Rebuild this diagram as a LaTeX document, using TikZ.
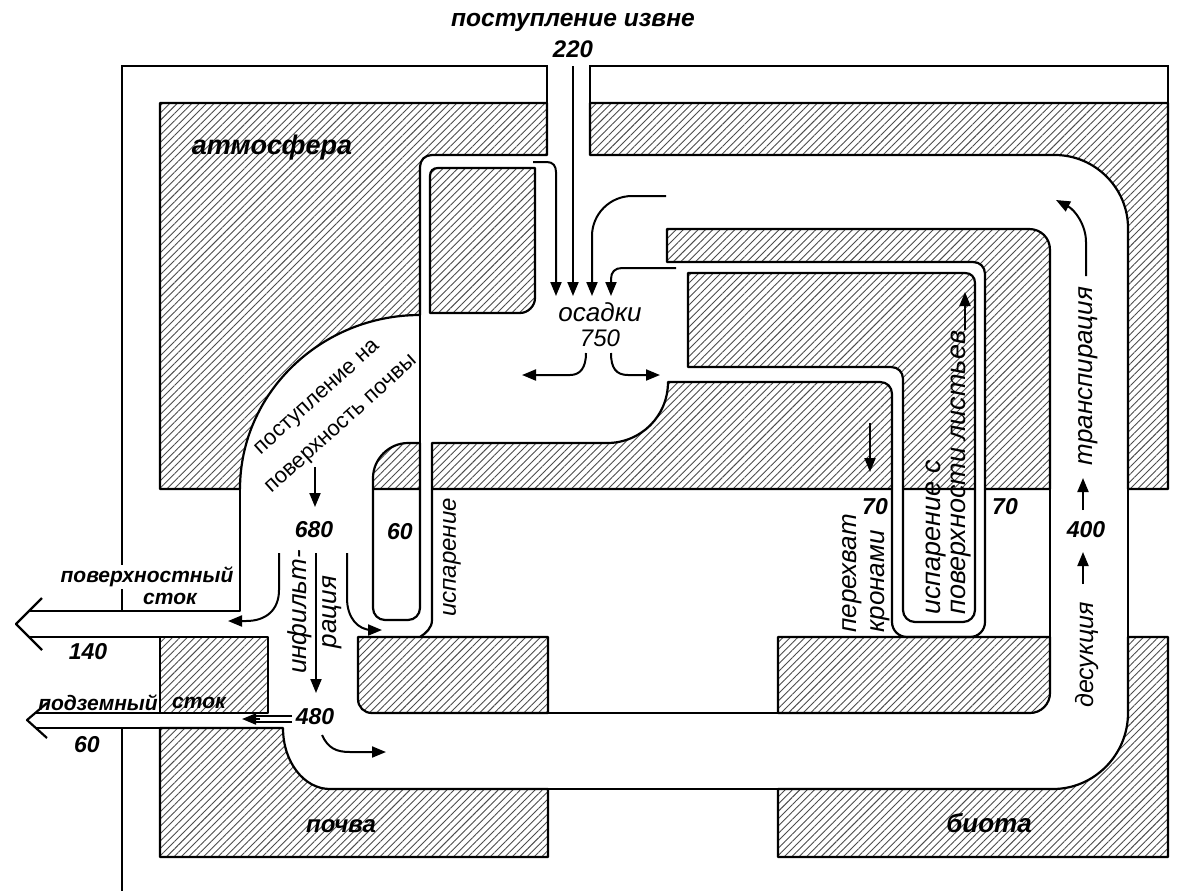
\documentclass[tikz,border=0pt]{standalone}
\usepackage{fontspec}
\setmainfont{Liberation Sans}
\usetikzlibrary{patterns.meta,arrows.meta}
\begin{document}
\begin{tikzpicture}[x=0.5pt,y=-0.5pt,
  hatch/.style={pattern={Lines[angle=45,distance=2.6pt,line width=0.45pt]},pattern color=black!70,draw=black,line width=1.1pt,line join=round},
  wall/.style={draw=black,line width=1.1pt,line join=round},
  frameline/.style={draw=black,line width=0.9pt},
  flow/.style={draw=black,line width=1pt,-{Triangle[length=7pt,width=5.5pt]}},
  lbl/.style={font=\fontsize{13}{14}\selectfont\bfseries\itshape,inner sep=1pt},
  num/.style={font=\fontsize{11.5}{13}\selectfont\bfseries\itshape,inner sep=1pt},
  vlbl/.style={font=\fontsize{13}{14}\selectfont\itshape,rotate=90,inner sep=0pt},
]
\useasboundingbox (0,0) rectangle (1200,891);

% ---------- atmosphere ----------
\draw[hatch] (160,103) -- (547,103) -- (547,155) -- (432,155) .. controls (425,155) and (420,160) .. (420,167) -- (420,315) .. controls (321,315) and (240,393) .. (240,489) -- (160,489) -- cycle;
\draw[hatch] (590,103) -- (1168,103) -- (1168,489) -- (1128,489) -- (1128,228) .. controls (1128,188) and (1095,155) .. (1055,155) -- (590,155) -- cycle;
\draw[hatch] (438,168) -- (535,168) -- (535,298) .. controls (535,306) and (528,313) .. (520,313) -- (430,313) -- (430,176) .. controls (430,171) and (433,168) .. (438,168) -- cycle;
\draw[hatch] (667,229) -- (1029,229) .. controls (1041,229) and (1050,238) .. (1050,250) -- (1050,489) -- (985,489) -- (985,274) .. controls (985,267) and (980,262) .. (973,262) -- (667,262) -- cycle;
\draw[hatch] (688,273) -- (965,273) .. controls (971,273) and (975,277) .. (975,283) -- (975,489) -- (903,489) -- (903,379) .. controls (903,372) and (898,367) .. (891,367) -- (688,367) -- cycle;
\draw[hatch] (432,443) -- (607,443) .. controls (641,443) and (668,416) .. (668,382) -- (880,382) .. controls (887,382) and (892,387) .. (892,394) -- (892,489) -- (432,489) -- cycle;
\draw[hatch] (420,443) -- (408,443) .. controls (389,443) and (373,459) .. (373,478) -- (373,489) -- (420,489) -- cycle;

% ---------- soil ----------
\draw[hatch] (160,637) rectangle (268,713);
\draw[hatch] (358,637) -- (548,637) -- (548,713) -- (372,713) .. controls (364,713) and (358,707) .. (358,699) -- cycle;
\draw[hatch] (160,728) -- (283,728) .. controls (283,762) and (304,789) .. (330,789) -- (548,789) -- (548,857) -- (160,857) -- cycle;

% ---------- biota ----------
\draw[hatch] (778,637) -- (1050,637) -- (1050,693) .. controls (1050,704) and (1041,713) .. (1030,713) -- (778,713) -- cycle;
\draw[hatch] (778,789) -- (1053,789) .. controls (1094,789) and (1128,755) .. (1128,713) -- (1128,637) -- (1168,637) -- (1168,857) -- (778,857) -- cycle;

% ---------- frame ----------
\draw[frameline] (122,611) -- (122,66) -- (547,66) -- (547,103);
\draw[frameline] (590,103) -- (590,66) -- (1168,66) -- (1168,103);
\draw[frameline] (122,728) -- (122,891);

% ---------- channel walls ----------
\draw[wall] (420,315) -- (420,489);
\draw[wall,rounded corners=6pt] (373,489) -- (373,620) -- (420,620) -- (420,489);
\draw[wall] (432,489) -- (432,620) .. controls (432,628) and (426,633) .. (420,637);
\draw[wall] (240,489) -- (240,611) -- (29,611);
\draw[wall] (268,637) -- (29,637);
\draw[wall] (42,598) -- (16,624) -- (42,650);
\draw[wall] (160,713) -- (35,713);
\draw[wall] (160,728) -- (35,728);
\draw[wall] (47,703) -- (27,720) -- (47,738);
\draw[wall] (548,713) -- (778,713);
\draw[wall] (548,789) -- (778,789);
\draw[wall,rounded corners=7.5pt] (892,489) -- (892,637) -- (985,637) -- (985,489);
\draw[wall,rounded corners=6pt] (903,489) -- (903,622) -- (975,622) -- (975,489);
\draw[wall] (1050,489) -- (1050,637);
\draw[wall] (1128,489) -- (1128,637);

% ---------- labels ----------
\node[lbl,font=\fontsize{12.3}{14}\selectfont\bfseries\itshape] (inflow) at (573,22) {поступление извне};
\node[num,font=\fontsize{12}{13}\selectfont\bfseries\itshape] (v220) at (573,49) {220};
\node[lbl,font=\fontsize{13.5}{14}\selectfont\bfseries\itshape] (atm) at (272,148) {атмосфера};
\node[lbl,font=\fontsize{12}{14}\selectfont\bfseries\itshape] (soil) at (341,826) {почва};
\node[lbl] (biota) at (989,823) {биота};
\node[font=\fontsize{13}{14}\selectfont\itshape,inner sep=1pt] (precip) at (600,312) {осадки};
\node[font=\fontsize{12}{14}\selectfont\itshape,inner sep=1pt] (v750) at (600,338) {750};
\node[font=\fontsize{11}{18}\selectfont,rotate=42,align=center,inner sep=0pt] (surfin) at (330,412) {поступление на\\поверхность почвы};
\node[num] (v680) at (314,530) {680};
\node[num] (v60a) at (400,532) {60};
\node[num] (v480) at (315,717) {480};
\node[num] (v70a) at (875,507) {70};
\node[num] (v70b) at (1005,507) {70};
\node[num] (v400) at (1086,530) {400};
\node[num] (v140) at (88,652) {140};
\node[num] (v60b) at (87,745) {60};
\node[font=\fontsize{10.5}{12}\selectfont\bfseries\itshape,fill=white,inner sep=1pt] (surfrun) at (147,577) {поверхностный};
\node[font=\fontsize{10.5}{12}\selectfont\bfseries\itshape,inner sep=1pt] (surfrun2) at (170,599) {сток};
\node[font=\fontsize{10.5}{12}\selectfont\bfseries\itshape,inner sep=1pt] (undrun) at (98,703) {подземный};
\node[font=\fontsize{10.5}{12}\selectfont\bfseries\itshape,inner sep=1pt] (undrun2) at (199,703) {сток};
\node[vlbl,align=center,font=\fontsize{13}{15}\selectfont\itshape] (infil) at (315,612) {инфильт-\\рация};
\node[vlbl,anchor=west,font=\fontsize{12}{14}\selectfont\itshape] (evap) at (452,617) {испарение};
\node[vlbl,anchor=west,align=left,font=\fontsize{13}{14}\selectfont\itshape] (intercept) at (866,633) {перехват\\кронами};
\node[vlbl,anchor=west,align=left,font=\fontsize{13.5}{12.5}\selectfont\itshape] (leafevap) at (949,615) {испарение с\\поверхности листьев};
\node[vlbl] (transp) at (1088,376) {транспирация};
\node[vlbl,font=\fontsize{12.5}{14}\selectfont\itshape] (desuc) at (1087,655) {десукция};

% ---------- flow arrows ----------
\draw[flow] (533,162) -- (547,162) .. controls (553,162) and (556,166) .. (556,172) -- (556,296);
\draw[flow] (573,66) -- (573,296);
\draw[flow] (666,196) -- (632,196) .. controls (610,196) and (592,214) .. (592,236) -- (592,296);
\draw[flow] (676,268) -- (622,268) .. controls (615,268) and (611,272) .. (611,279) -- (611,296);
\draw[flow] (586,353) .. controls (586,368) and (580,375) .. (570,375) -- (522,375);
\draw[flow] (611,353) .. controls (611,368) and (616,375) .. (628,375) -- (660,375);
\draw[flow] (315,467) -- (315,507);
\draw[flow] (279,553) -- (279,590) .. controls (279,610) and (266,621) .. (246,621) -- (228,621);
\draw[flow] (316,553) -- (316,693);
\draw[flow] (347,553) -- (347,598) .. controls (347,618) and (358,630) .. (372,630) -- (382,630);
\draw[line width=0.8pt] (292,716) -- (256,716);
\draw[line width=0.8pt] (292,722) -- (256,722);
\draw[flow] (260,719) -- (242,719);
\draw[flow] (322,735) .. controls (328,748) and (336,752) .. (350,752) -- (386,752);
\draw[flow] (1086,276) -- (1086,242) .. controls (1086,225) and (1075,210) .. (1056,200);
\draw[flow] (1083,510) -- (1083,478);
\draw[flow] (1083,584) -- (1083,552);
\draw[flow] (965,330) -- (965,292);
\draw[flow] (870,423) -- (870,472);
\end{tikzpicture}
\end{document}
